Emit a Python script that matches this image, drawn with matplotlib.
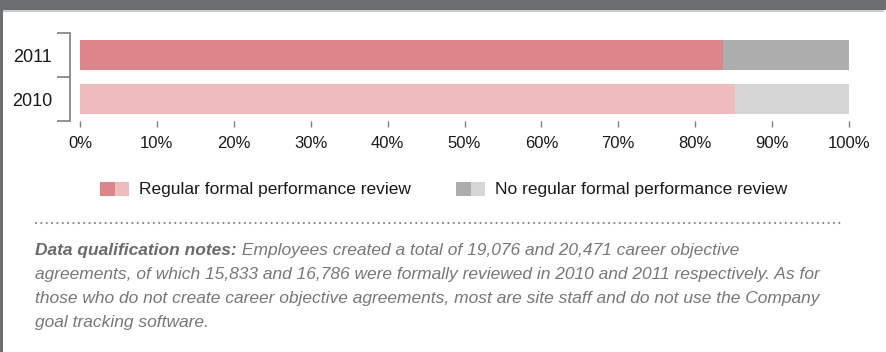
import numpy as np
import matplotlib.pyplot as plt
from matplotlib.patches import Rectangle
from matplotlib.lines import Line2D

plt.rcParams['font.family'] = ['Liberation Sans', 'DejaVu Sans']

years = ['2010', '2011']
reviewed = [85.2, 83.6]          # % with regular formal performance review
not_reviewed = [100 - v for v in reviewed]
ticks_pct = list(range(0, 101, 10))

pink = ['#eebcbd', '#dc868c']
grey = ['#d5d6d5', '#adadad']
notes_bold = 'Data qualification notes:'
notes_lines = [
    ' Employees created a total of 19,076 and 20,471 career objective',
    'agreements, of which 15,833 and 16,786 were formally reviewed in 2010 and 2011 respectively. As for',
    'those who do not create career objective agreements, most are site staff and do not use the Company',
    'goal tracking software.',
]

W, H = 886, 352
fig = plt.figure(figsize=(W / 100, H / 100), dpi=100)
fig.patch.set_facecolor('white')


def fx(px):
    return px / W


def fy(py):
    return 1 - py / H


def box(x0, y0, w, h, color):
    fig.add_artist(Rectangle((fx(x0), fy(y0 + h)), w / W, h / H,
                             transform=fig.transFigure, color=color, lw=0))


# frame: dark strip on top, thin bar on the left
box(0, 0, W, 10, '#6c6f72')
box(0, 10, 884, 1.5, '#c9cacb')
box(0, 0, 2.5, H, '#6c6f72')

ax = fig.add_axes([fx(80), fy(121), fx(769), 88 / H])
y = np.arange(len(years))
ax.barh(y, reviewed, height=0.66, color=pink, lw=0)
ax.barh(y, not_reviewed, left=reviewed, height=0.66, color=grey, lw=0)

ax.set_xlim(0, 100)
ax.set_ylim(-0.5, 1.5)
for s in ['top', 'right', 'bottom']:
    ax.spines[s].set_visible(False)
ax.spines['left'].set_position(('outward', 7.2))
ax.spines['left'].set_color('#7f7f7f')
ax.spines['left'].set_linewidth(1.2)

# bracket ticks on the left, year labels between them
ax.set_yticks([-0.5, 0.5, 1.5])
ax.set_yticklabels([])
ax.set_yticks(y, minor=True)
ax.set_yticklabels(years, minor=True, fontsize=13, color='#1a1a1a')
ax.tick_params(axis='y', which='major', direction='out', length=9.4,
               width=1.2, color='#7f7f7f')
ax.tick_params(axis='y', which='minor', length=0, pad=13)

ax.set_xticks(ticks_pct)
ax.set_xticklabels([f'{t}%' for t in ticks_pct], fontsize=12, color='#1a1a1a')
ax.tick_params(axis='x', direction='out', length=4.6, width=1,
               color='#7f7f7f', pad=6.5)

# legend
box(100, 182, 14.5, 14, pink[1])
box(114.5, 182, 14.5, 14, pink[0])
fig.text(fx(139), fy(189), 'Regular formal performance review', fontsize=12.5,
         color='#1a1a1a', va='center')
box(456, 182, 14.5, 14, grey[1])
box(470.5, 182, 14.5, 14, grey[0])
fig.text(fx(495), fy(189), 'No regular formal performance review', fontsize=12.5,
         color='#1a1a1a', va='center')

# dotted separator
fig.add_artist(Line2D([fx(36), fx(842)], [fy(223), fy(223)], transform=fig.transFigure,
                      color='#888888', lw=1.6, linestyle=(0, (0.01, 2.4)),
                      dash_capstyle='round'))

# notes
nfs = 12.5
t = fig.text(fx(35), fy(251), notes_bold, fontsize=nfs, style='italic',
             weight='bold', color='#6a6a6a', va='center')
fig.canvas.draw()
bb = t.get_window_extent()
fig.text(bb.x1 / W, fy(251), notes_lines[0], fontsize=nfs, style='italic',
         color='#777777', va='center')
for i, line in enumerate(notes_lines[1:]):
    fig.text(fx(35), fy(275 + 24 * i), line, fontsize=nfs, style='italic',
             color='#777777', va='center')

fig.savefig('out.png', dpi=100, facecolor='white')
